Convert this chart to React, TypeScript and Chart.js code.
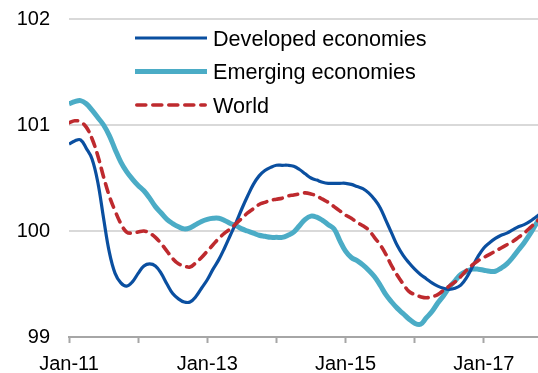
import React, { useEffect, useRef } from "react";
import { Chart, registerables } from "chart.js";

Chart.register(...registerables);

// Months since Jan-11 (index 0 = Jan-11)
const yearTickLabels = ["Jan-11", "", "Jan-13", "", "Jan-15", "", "Jan-17"];

const seriesNames = ["Developed economies", "Emerging economies", "World"];

const developed = [
  100.82, 100.85, 100.86, 100.78, 100.68, 100.46, 100.12, 99.8, 99.6, 99.51,
  99.48, 99.52, 99.6, 99.67, 99.69, 99.67, 99.6, 99.5, 99.41, 99.36,
  99.33, 99.33, 99.38, 99.46, 99.54, 99.64, 99.73, 99.84, 99.96, 100.08,
  100.21, 100.33, 100.44, 100.52, 100.57, 100.6, 100.62, 100.62, 100.62, 100.61,
  100.58, 100.54, 100.5, 100.48, 100.46, 100.45, 100.45, 100.45, 100.45, 100.44,
  100.42, 100.4, 100.36, 100.3, 100.22, 100.1, 99.98, 99.86, 99.77, 99.7,
  99.64, 99.59, 99.55, 99.51, 99.48, 99.46, 99.45, 99.46, 99.49, 99.56,
  99.66, 99.76, 99.84, 99.89, 99.93, 99.96, 99.98, 100.01, 100.04, 100.06,
  100.09, 100.13, 100.17,
];

const emerging = [
  101.2, 101.22, 101.23, 101.2, 101.14, 101.07, 101.0, 100.9, 100.77, 100.65,
  100.56, 100.49, 100.43, 100.38, 100.31, 100.23, 100.17, 100.11, 100.07, 100.04,
  100.02, 100.03, 100.06, 100.09, 100.11, 100.12, 100.12, 100.1, 100.07, 100.05,
  100.02, 100.0, 99.98, 99.96, 99.95, 99.94, 99.94, 99.94, 99.96, 99.99,
  100.05, 100.11, 100.14, 100.13, 100.1, 100.06, 100.02, 99.91, 99.81, 99.75,
  99.72, 99.68, 99.63, 99.57, 99.49, 99.4, 99.33, 99.27, 99.22, 99.17,
  99.13, 99.12, 99.18, 99.24, 99.32, 99.39, 99.47, 99.53, 99.59, 99.62,
  99.64, 99.64, 99.63, 99.62, 99.62, 99.65, 99.69, 99.75, 99.82, 99.89,
  99.97, 100.06, 100.14,
];

const world = [
  101.02, 101.04, 101.03, 100.98, 100.87, 100.71, 100.51, 100.33, 100.19, 100.07,
  99.99, 99.98, 99.99, 100.0, 99.98, 99.94, 99.88, 99.81, 99.74, 99.69,
  99.67, 99.66, 99.7, 99.75, 99.81, 99.87, 99.93, 99.98, 100.02, 100.07,
  100.12, 100.17, 100.21, 100.25, 100.27, 100.29, 100.3, 100.31, 100.33, 100.34,
  100.35, 100.36, 100.35, 100.33, 100.3, 100.27, 100.23, 100.19, 100.15, 100.12,
  100.08, 100.05, 100.01, 99.94, 99.87, 99.78, 99.67, 99.58, 99.5, 99.43,
  99.4, 99.38, 99.37, 99.38, 99.4, 99.44, 99.48, 99.52, 99.57, 99.63,
  99.68, 99.72, 99.75, 99.78, 99.81, 99.84, 99.87, 99.9, 99.94, 99.98,
  100.03, 100.08, 100.13,
];

const FONT = "Arial, 'Liberation Sans', sans-serif";

const legendPlugin = {
  id: "insideLegend",
  afterDatasetsDraw(chart: any) {
    const ctx = chart.ctx;
    const rows = [38, 71.5, 105];
    ctx.save();
    chart.data.datasets.forEach((ds: any, i: number) => {
      const y = rows[i];
      const round = ds.borderCapStyle === "round";
      const inset = round ? ds.borderWidth / 2 : 0;
      ctx.beginPath();
      ctx.strokeStyle = ds.borderColor;
      ctx.lineWidth = ds.borderWidth;
      ctx.setLineDash(ds.borderDash || []);
      ctx.lineCap = round ? "round" : "butt";
      ctx.moveTo(135 + inset, y);
      ctx.lineTo(207 - inset, y);
      ctx.stroke();
      ctx.setLineDash([]);
      ctx.fillStyle = "#000";
      ctx.font = `21.6px ${FONT}`;
      ctx.textBaseline = "alphabetic";
      ctx.textAlign = "left";
      ctx.fillText(ds.label, 213, y + 7.5);
    });
    ctx.restore();
  },
};

export default function App() {
  const ref = useRef<HTMLCanvasElement | null>(null);

  useEffect(() => {
    if (!ref.current) return;
    const mk = (arr: number[]) => arr.map((v, i) => ({ x: i, y: v }));
    const chart = new Chart(ref.current, {
      type: "line",
      data: {
        datasets: [
          {
            label: seriesNames[0],
            data: mk(developed),
            borderColor: "#0A4FA0",
            borderWidth: 3.2,
            pointRadius: 0,
            tension: 0.4,
            order: 1,
          },
          {
            label: seriesNames[1],
            data: mk(emerging),
            borderColor: "#4BACC6",
            borderWidth: 5,
            pointRadius: 0,
            tension: 0.4,
            order: 2,
          },
          {
            label: seriesNames[2],
            data: mk(world),
            borderColor: "#BE2A2E",
            borderWidth: 3.6,
            borderDash: [9, 7],
            borderCapStyle: "round",
            pointRadius: 0,
            tension: 0.4,
            order: 0,
          },
        ],
      },
      options: {
        responsive: false,
        animation: false,
        layout: { padding: { top: 19, right: 0, left: 0, bottom: 0 } },
        plugins: { legend: { display: false }, tooltip: { enabled: false } },
        scales: {
          x: {
            type: "linear",
            min: 0,
            max: 81.4,
            afterFit: (s: any) => {
              s.height = 36;
              s.paddingLeft = 0;
              s.paddingRight = 0;
            },
            border: { display: true, color: "#A6A6A6", width: 2 },
            grid: {
              drawOnChartArea: false,
              drawTicks: true,
              tickLength: 6,
              tickColor: "#A6A6A6",
              tickWidth: 2,
            },
            ticks: {
              stepSize: 12,
              includeBounds: false,
              autoSkip: false,
              maxRotation: 0,
              padding: 9,
              color: "#000",
              font: { family: FONT, size: 20 },
              callback: (v: any) => {
                const idx = Math.round(Number(v) / 12);
                return yearTickLabels[idx] ?? "";
              },
            },
          },
          y: {
            min: 99,
            max: 102,
            afterFit: (s: any) => {
              s.width = 69;
              s.paddingTop = 0;
              s.paddingBottom = 0;
            },
            border: { display: false },
            grid: { color: "#D9D9D9", lineWidth: 2, drawTicks: false },
            ticks: {
              stepSize: 1,
              padding: 19,
              color: "#000",
              font: { family: FONT, size: 20 },
            },
          },
        },
      },
      plugins: [legendPlugin],
    });
    return () => chart.destroy();
  }, []);

  return (
    <div style={{ position: "fixed", left: 0, top: 0, width: 538, height: 373, background: "#fff" }}>
      <canvas ref={ref} width={538} height={373} />
    </div>
  );
}
